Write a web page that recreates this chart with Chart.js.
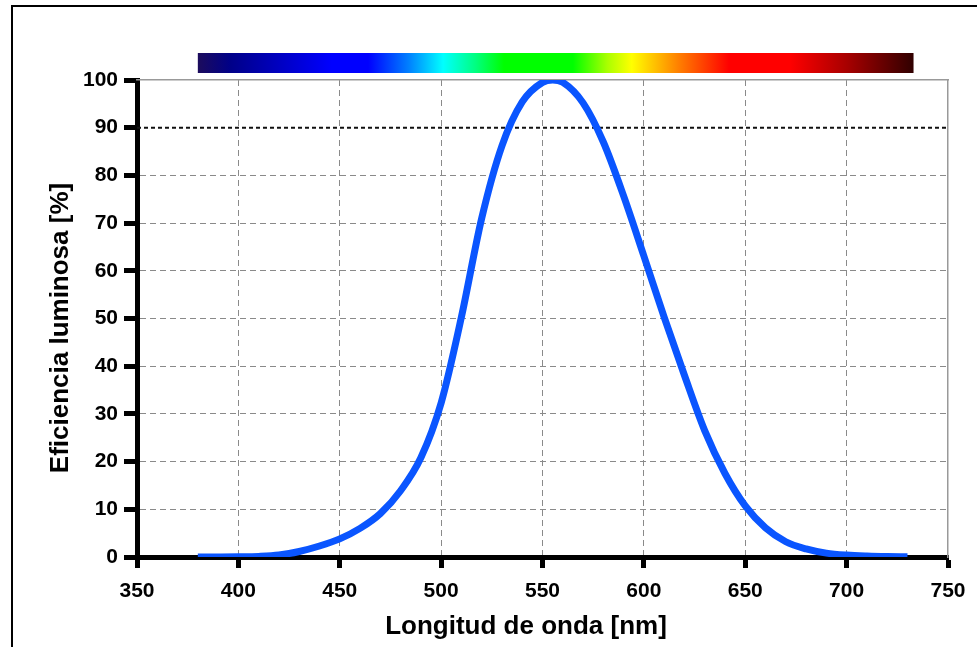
<!DOCTYPE html>
<html><head><meta charset="utf-8">
<script src="https://cdn.jsdelivr.net/npm/chart.js@4.4.1/dist/chart.umd.min.js"></script>
<style>
html,body{margin:0;padding:0;background:#fff;}
#wrap{position:relative;width:977px;height:647px;overflow:hidden;background:#fff;}
#c{position:absolute;left:0;top:0;}
#frame{position:absolute;left:11px;top:5px;width:2000px;height:2000px;border-left:2px solid #000;border-top:2px solid #000;pointer-events:none;}
.ttl{position:absolute;font-family:'Liberation Sans',Arial,sans-serif;font-weight:bold;font-size:26px;line-height:26px;height:26px;color:#000;white-space:nowrap;text-align:center;width:500px;}
#xt{left:276px;top:612px;}
#yt{left:-191px;top:315px;transform:rotate(-90deg);}
</style>
</head>
<body>
<div id="wrap">
<canvas id="c" width="977" height="647"></canvas>
<div id="frame"></div>
<div class="ttl" id="xt">Longitud de onda [nm]</div>
<div class="ttl" id="yt">Eficiencia luminosa [%]</div>
</div>
<script>
// ---- data ----
const wavelengths = [380,390,400,410,420,430,440,450,460,470,480,490,500,510,520,530,540,550,555,560,570,580,590,600,610,620,630,640,650,660,670,680,690,700,710,720,730];
const efficiency  = [0.004,0.012,0.04,0.12,0.4,1.16,2.3,3.8,6.0,9.1,13.9,20.8,32.3,50.3,71.0,86.2,95.4,99.5,100,99.5,95.2,87.0,75.7,63.1,50.3,38.1,26.5,17.5,10.7,6.1,3.2,1.7,0.82,0.41,0.21,0.1,0.05];
const xTickValues = [350,400,450,500,550,600,650,700,750];
const yTickValues = [0,10,20,30,40,50,60,70,80,90,100];
const referenceX = [350, 750];
const referenceLevel = [90, 90];
const spectrumRange = [380, 733];

const FONT = "'Liberation Sans', Arial, sans-serif";
const curvePoints = wavelengths.map((w, i) => ({x: w, y: efficiency[i]}));
const refPoints = referenceX.map((w, i) => ({x: w, y: referenceLevel[i]}));

const spectrumPlugin = {
  id: 'spectrum',
  afterDraw(chart, args, opts) {
    const xs = chart.scales.x;
    const x0 = xs.getPixelForValue(spectrumRange[0]);
    const x1 = xs.getPixelForValue(spectrumRange[1]);
    const top = chart.chartArea.top - opts.gap - opts.height;
    const ctx = chart.ctx;
    const g = ctx.createLinearGradient(x0, 0, x1, 0);
    opts.stops.forEach(([w, c]) => {
      g.addColorStop((w - spectrumRange[0]) / (spectrumRange[1] - spectrumRange[0]), c);
    });
    ctx.save();
    ctx.fillStyle = g;
    ctx.fillRect(x0, top, x1 - x0, opts.height);
    ctx.restore();
  }
};

const edgeX = [350, 750];
const edgeY = [0, 90, 100];

new Chart(document.getElementById('c'), {
  type: 'line',
  data: {
    datasets: [
      {
        label: 'V(λ)',
        data: curvePoints,
        xAxisID: 'x', yAxisID: 'y',
        borderColor: '#0a55ff',
        borderWidth: 7,
        pointRadius: 0,
        cubicInterpolationMode: 'monotone',
        fill: false,
        order: 0
      },
      {
        label: '90%',
        data: refPoints,
        xAxisID: 'x', yAxisID: 'y',
        borderColor: '#111',
        borderWidth: 2,
        borderDash: [4, 3],
        pointRadius: 0,
        fill: false,
        order: 1
      }
    ]
  },
  options: {
    responsive: false,
    animation: false,
    events: [],
    layout: { padding: { left: 0, top: 80, right: 29, bottom: 0 } },
    plugins: {
      legend: { display: false },
      tooltip: { enabled: false },
      spectrum: {
        gap: 7, height: 20,
        stops: [
          [380, '#1c0c5c'], [396, '#000088'], [446, '#0000ff'], [464, '#0000ff'],
          [484, '#0080ff'], [501, '#00ffff'], [517, '#00ff80'], [531, '#00ff00'],
          [565, '#00ff00'], [582, '#aaff00'], [594, '#ffff00'], [617, '#ff8000'],
          [642, '#ff0000'], [672, '#ff0000'], [700, '#a80000'], [733, '#300000']
        ]
      }
    },
    scales: {
      x: {
        type: 'linear', position: 'bottom', min: 350, max: 750,
        afterBuildTicks: s => { s.ticks = xTickValues.map(v => ({value: v})); },
        afterFit: s => { s.height = 90; },
        ticks: { color: '#000', padding: 11, font: { family: FONT, size: 21, weight: 'bold' } },
        grid: {
          color: c => edgeX.includes(c.tick && c.tick.value) ? 'rgba(0,0,0,0)' : '#8a8a8a',
          lineWidth: 1, tickLength: 11, tickWidth: 5, tickColor: '#000'
        },
        border: { color: '#000', width: 5, dash: [6, 4] }
      },
      y: {
        type: 'linear', position: 'left', min: 0, max: 100,
        afterBuildTicks: s => { s.ticks = yTickValues.map(v => ({value: v})); },
        afterFit: s => { s.width = 137; },
        ticks: { color: '#000', padding: 6, font: { family: FONT, size: 21, weight: 'bold' } },
        grid: {
          color: c => edgeY.includes(c.tick && c.tick.value) ? 'rgba(0,0,0,0)' : '#8a8a8a',
          lineWidth: 1, tickLength: 13, tickWidth: 5, tickColor: '#000'
        },
        border: { color: '#000', width: 5, dash: [6, 4] }
      },
      xTop: {
        type: 'linear', position: 'top', min: 350, max: 750,
        afterFit: s => { s.height = 0; },
        ticks: { display: false },
        grid: { display: false, drawTicks: false },
        border: { color: '#999', width: 1.5 }
      },
      yRight: {
        type: 'linear', position: 'right', min: 0, max: 100,
        afterFit: s => { s.width = 0; },
        ticks: { display: false },
        grid: { display: false, drawTicks: false },
        border: { color: '#999', width: 1.5 }
      }
    }
  },
  plugins: [spectrumPlugin]
});
</script>
</body></html>
